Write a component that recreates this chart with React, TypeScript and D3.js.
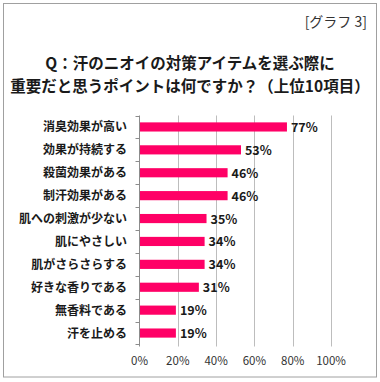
import React from "react";
import * as d3 from "d3";

const categories = [
  "消臭効果が高い",
  "効果が持続する",
  "殺菌効果がある",
  "制汗効果がある",
  "肌への刺激が少ない",
  "肌にやさしい",
  "肌がさらさらする",
  "好きな香りである",
  "無香料である",
  "汗を止める",
];
const values = [77, 53, 46, 46, 35, 34, 34, 31, 19, 19];
const xTicks = [0, 20, 40, 60, 80, 100];
const titleLines = ["Q：汗のニオイの対策アイテムを選ぶ際に", "重要だと思うポイントは何ですか？（上位10項目）"];
const tag = "[グラフ 3]";

const W = 380;
const H = 382;
const font = "'Noto Sans CJK JP', 'Noto Sans', sans-serif";

export default function App() {
  const left = 139.5;
  const right = 331;
  const top = 115.5;
  const bottom = 344.5;
  const x = d3.scaleLinear().domain([0, 100]).range([left, right]);
  const y = d3.scaleBand<string>().domain(categories).range([top, bottom]).paddingInner(0.6).paddingOuter(0.3);
  const yb = d3.scaleBand<string>().domain(categories).range([top, bottom]);
  return (
    <svg width={W} height={H} style={{ position: "absolute", left: 0, top: 0 }}>
      <rect x={0} y={0} width={W} height={H} fill="#fff" />
      <rect x={3.5} y={3.5} width={373} height={373.5} fill="none" stroke="#a0a0a0" strokeWidth={1} />
      <text x={367} y={27} textAnchor="end" fontFamily={font} fontSize={14} fill="#333">{tag}</text>
      {titleLines.map((t, i) => (
        <text key={i} x={190} y={69 + i * 23} textAnchor="middle" fontFamily={font} fontSize={15.5} fontWeight="bold" fill="#1a1a1a">{t}</text>
      ))}
      {xTicks.slice(1).map((t) => (
        <line key={t} x1={Math.round(x(t)) + 0.5} x2={Math.round(x(t)) + 0.5} y1={top} y2={bottom + 2} stroke="#bdbdbd" strokeWidth={1} />
      ))}
      {values.map((v, i) => (
        <rect key={i} x={x(0)} y={y(categories[i])!} width={x(v) - x(0)} height={y.bandwidth()} fill="#ff0066" />
      ))}
      <line x1={left} x2={left} y1={top} y2={bottom + 2} stroke="#8c8c8c" strokeWidth={1} />
      {categories.map((c) => (
        <line key={c} x1={left - 4} x2={left} y1={Math.round(yb(c)!) + 0.5} y2={Math.round(yb(c)!) + 0.5} stroke="#8c8c8c" strokeWidth={1} />
      ))}
      <line x1={left - 4} x2={left} y1={bottom} y2={bottom} stroke="#8c8c8c" strokeWidth={1} />
      {categories.map((c) => (
        <text key={c} x={127} y={yb(c)! + yb.bandwidth() / 2 + 4.5} textAnchor="end" fontFamily={font} fontSize={12} fontWeight="bold" fill="#1a1a1a">{c}</text>
      ))}
      {values.map((v, i) => (
        <text key={i} x={x(v) + 4} y={y(categories[i])! + y.bandwidth() / 2 + 5} fontFamily={font} fontSize={12.5} fontWeight="bold" fill="#1a1a1a">{v}%</text>
      ))}
      {xTicks.map((t) => (
        <text key={t} x={x(t)} y={365} textAnchor="middle" fontFamily={font} fontSize={11.5} fill="#333">{t}%</text>
      ))}
    </svg>
  );
}
